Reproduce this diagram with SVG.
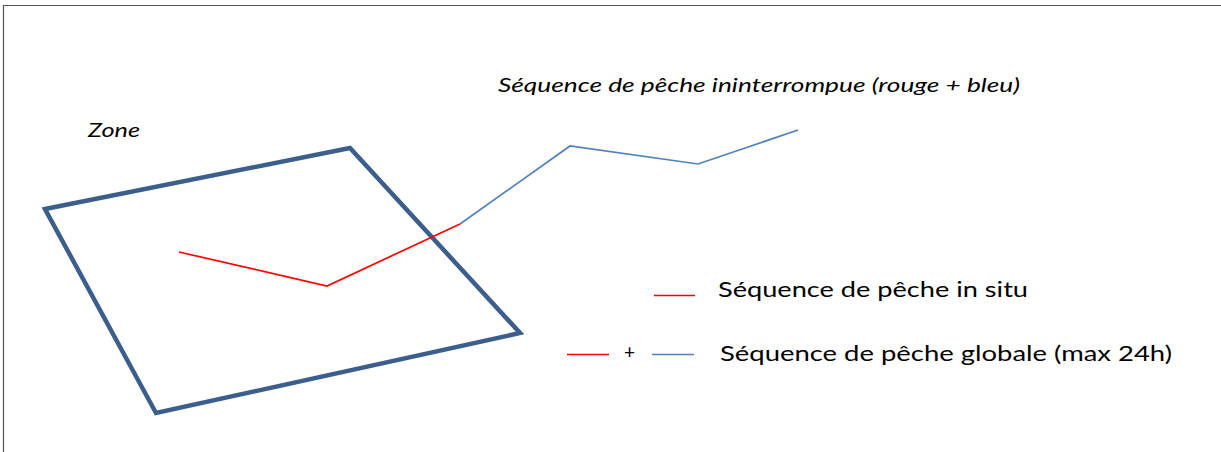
<svg xmlns="http://www.w3.org/2000/svg" width="1221" height="452" viewBox="0 0 1221 452">
<style>
.t{font-family:Lato,"Liberation Sans",sans-serif;fill:#000}
.i{font-style:italic}
.zone{fill:none;stroke:#3B5E8C;stroke-width:4.5;stroke-linejoin:miter}
.red{fill:none;stroke:#FF0000;stroke-width:1.7}
.blue{fill:none;stroke:#4F81BD;stroke-width:1.7}
</style>
<rect width="1221" height="452" fill="#fff"/>
<path d="M3.5,452 V5.5 H1221" fill="none" stroke="#555" stroke-width="1.2"/>
<g id="title"><text class="t i" x="498" y="92" font-size="20" textLength="522" lengthAdjust="spacingAndGlyphs">Séquence de pêche ininterrompue (rouge + bleu)</text></g>
<g id="zone">
<text class="t i" x="88" y="137" font-size="20" textLength="52" lengthAdjust="spacingAndGlyphs">Zone</text>
<polygon class="zone" points="45,209 350,148 520,333 156,413"/>
</g>
<g id="connectors">
<polyline class="red" points="179,252 327,286 460,224"/>
<polyline class="blue" points="460,224 570,146 698,164 798,130"/>
</g>
<g id="legend1">
<line class="red" x1="654" y1="295.5" x2="695" y2="295.5"/>
<text class="t" x="718" y="297" font-size="21.5" textLength="310" lengthAdjust="spacingAndGlyphs">Séquence de pêche in situ</text>
</g>
<g id="legend2">
<line class="red" x1="567" y1="354.5" x2="609" y2="354.5"/>
<text class="t" x="624" y="359" font-size="19">+</text>
<line class="blue" x1="652" y1="354.5" x2="694" y2="354.5"/>
<text class="t" x="720" y="361" font-size="21.5" textLength="452" lengthAdjust="spacingAndGlyphs">Séquence de pêche globale (max 24h)</text>
</g>
</svg>
